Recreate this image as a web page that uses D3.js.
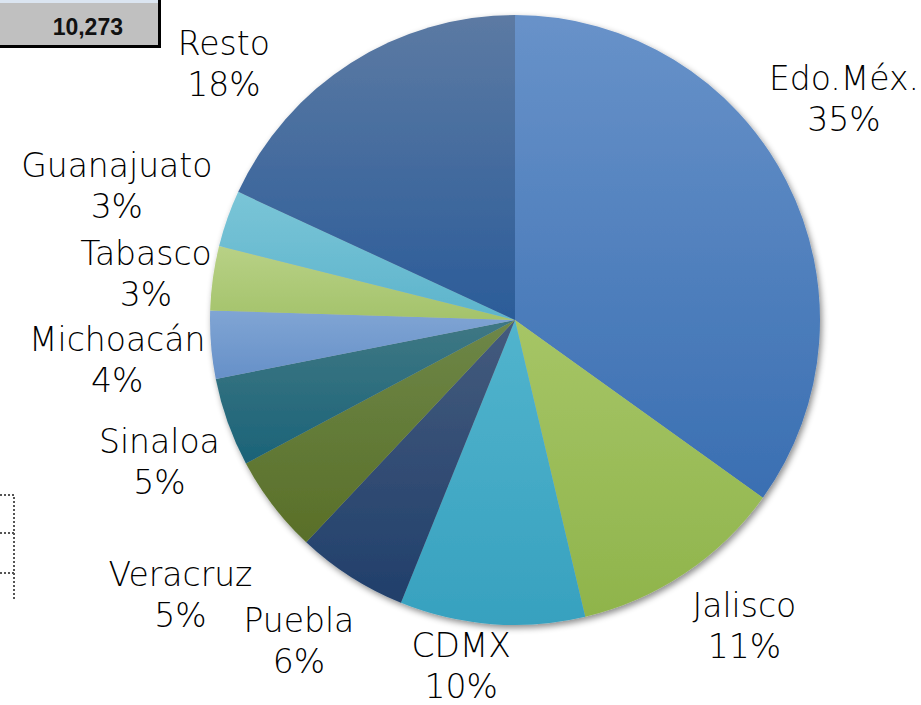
<!DOCTYPE html>
<html>
<head>
<meta charset="utf-8">
<script src="https://cdn.jsdelivr.net/npm/d3@7"></script>
<style>
body{margin:0;background:#fff;}
svg{display:block;}
</style>
</head>
<body>
<div class="graphics"></div>
<script>
// datos
var estados = ["Edo.Méx.","Jalisco","CDMX","Puebla","Veracruz","Sinaloa","Michoacán","Tabasco","Guanajuato","Resto"];
var porcentajes = [34.9, 11.4, 9.8, 5.9, 5.2, 4.7, 3.6, 3.4, 3.0, 18.1];
var total = "10,273";

// colores (arriba / abajo del degradado)
var colorTop = ["#6892c9","#a6c566","#52b4cd","#445b7d","#6e8748","#3f7884","#80a5d4","#b8d186","#7ac5d7","#5c7aa3"];
var colorBottom = ["#3a6fb2","#8fb44b","#37a1bf","#213f6b","#596f28","#1b6378","#6690c8","#a4c36b","#5db4cc","#2b5c99"];

// ajustes de posicion de etiquetas (estilo "mejor ajuste" de Excel)
var labelNudge = [[-34,-55],[15,2],[-25,-19],[-7,13],[-13,52],[15,19],[22,10],[26,4],[6,-13],[-87,51]];

var w = 921, h = 705;
var cx = 515, cy = 320, r = 305;

var svg = d3.select(".graphics").append("svg")
    .attr("width", w).attr("height", h);

var defs = svg.append("defs");

var sombra = defs.append("filter").attr("id","sombra")
    .attr("x","-10%").attr("y","-10%").attr("width","120%").attr("height","120%");
sombra.append("feDropShadow")
    .attr("dx",2).attr("dy",3).attr("stdDeviation",3)
    .attr("flood-color","#000").attr("flood-opacity",0.45);

estados.forEach(function(d,i){
    var g = defs.append("linearGradient").attr("id","grad"+i)
        .attr("x1",0).attr("y1",0).attr("x2",0).attr("y2",1);
    g.append("stop").attr("offset","0%").attr("stop-color",colorTop[i]);
    g.append("stop").attr("offset","100%").attr("stop-color",colorBottom[i]);
});

// celda de la hoja (arriba a la izquierda)
var celda = svg.append("g");
celda.append("rect").attr("x",0).attr("y",0).attr("width",158).attr("height",3).attr("fill","#dbe5f1");
celda.append("rect").attr("x",0).attr("y",3).attr("width",158).attr("height",42).attr("fill","#c0c0c0");
celda.append("path").attr("d","M0,46.5H159.5V0").attr("fill","none").attr("stroke","#000").attr("stroke-width",3);
celda.append("text").attr("x",123).attr("y",35)
    .attr("text-anchor","end")
    .style("font-family","'Liberation Sans', Arial, sans-serif")
    .style("font-weight","bold").style("font-size","23px").attr("fill","#111")
    .text(total);

// celdas punteadas a la izquierda
var punteado = svg.append("g").attr("fill","none").attr("stroke","#555")
    .attr("stroke-width",2).attr("stroke-dasharray","2,2");
punteado.append("path").attr("d","M0,495H14V600");
punteado.append("path").attr("d","M0,533H14");
punteado.append("path").attr("d","M0,573H14");

// pastel
var pie = d3.pie().sort(null).value(function(d){ return d; });
var arcs = pie(porcentajes);
var arc = d3.arc().innerRadius(0).outerRadius(r);

var gPie = svg.append("g").attr("transform","translate("+cx+","+cy+")");

gPie.append("g").attr("filter","url(#sombra)")
    .selectAll("path")
    .data(arcs)
    .enter()
    .append("path")
    .attr("d", arc)
    .attr("fill", function(d,i){ return "url(#grad"+i+")"; });

// etiquetas
var lineH = 41, capH = 24, R = r + 28;
var labels = gPie.selectAll(".etiqueta")
    .data(arcs)
    .enter()
    .append("text")
    .attr("class","etiqueta")
    .attr("text-anchor","middle")
    .style("font-family","'Century Gothic','DejaVu Sans',sans-serif")
    .style("font-weight","300")
    .style("font-size","33px")
    .attr("fill","#000");

labels.append("tspan").attr("class","l1").attr("x",0).attr("y",0)
    .text(function(d,i){ return estados[i]; });
labels.append("tspan").attr("class","l2").attr("x",0).attr("y",lineH)
    .text(function(d){ return Math.round(d.value) + "%"; });

labels.each(function(d,i){
    var t = d3.select(this);
    var bw = Math.max(t.select(".l1").node().getComputedTextLength(),
                      t.select(".l2").node().getComputedTextLength());
    var bh = capH + lineH;
    var a = (d.startAngle + d.endAngle)/2;
    var s = Math.sin(a), c = Math.cos(a);
    var mx = R*s + bw/2*s + labelNudge[i][0];
    var my = -R*c - bh/2*c + labelNudge[i][1];
    var base = my - bh/2 + capH;
    t.selectAll("tspan").attr("x", mx);
    t.select(".l1").attr("y", base);
    t.select(".l2").attr("y", base + lineH);
});
</script>
</body>
</html>
